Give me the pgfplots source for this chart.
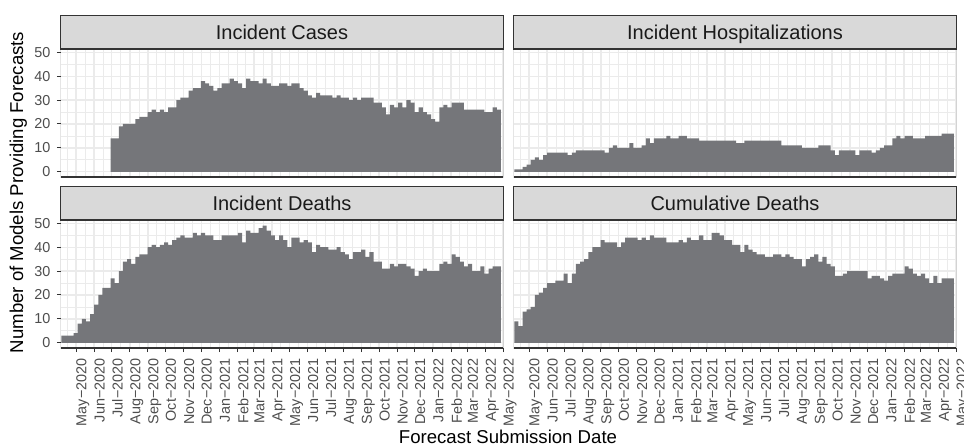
\documentclass[border=0pt]{standalone}
\usepackage{fontspec}
\setmainfont{Liberation Sans}
\setsansfont{Liberation Sans}
\usepackage{pgfplots}
\pgfplotsset{compat=1.18}
\definecolor{barc}{RGB}{117,118,122}
\definecolor{gridc}{RGB}{235,235,235}
\definecolor{borderc}{RGB}{51,51,51}
\definecolor{stripc}{RGB}{217,217,217}
\definecolor{tickc}{RGB}{77,77,77}
\definecolor{txtc}{RGB}{26,26,26}
\pgfplotsset{
  facet/.style={
    scale only axis, width=221.1pt, height=64pt,
    xmin=-0.6, xmax=107.04, ymin=-2.2, ymax=51.4,
    axis line style={draw=none},
    xtick={3.077,7.491,11.764,16.178,20.593,24.865,29.280,33.552,37.967,42.382,46.369,50.784,55.056,59.471,63.743,68.158,72.572,76.845,81.259,85.532,89.946,94.361,98.348,102.763,107.035},
    minor xtick={0.870,5.284,9.628,13.971,18.386,22.729,27.073,31.416,35.760,40.175,44.376,48.577,52.920,57.264,61.607,65.951,70.365,74.709,79.052,83.396,87.739,92.154,96.355,100.556,104.899},
    ytick={0,10,20,30,40,50}, minor ytick={5,15,25,35,45},
    grid=both,
    major grid style={color=gridc, line width=0.7pt},
    minor grid style={color=gridc, line width=0.35pt},
    tick align=outside, major tick length=2pt, minor tick length=0pt,
    tick pos=left,
    tick style={color=borderc, line width=0.5pt},
    ticklabel style={font=\fontsize{7.2}{8}\selectfont, color=tickc},
    /pgf/number format/assume math mode=true,
    yticklabel style={anchor=east, inner sep=0pt},
    yticklabel shift=3pt,
    xticklabel style={rotate=90, anchor=north east, inner sep=0pt},
    xticklabel shift=3pt,
  },
  toprow/.style={xticklabels={}, xtick style={draw=none}},
  rightcol/.style={yticklabels={}, ytick style={draw=none}},
  bottomrow/.style={xticklabels={May−2020,Jun−2020,Jul−2020,Aug−2020,Sep−2020,Oct−2020,Nov−2020,Dec−2020,Jan−2021,Feb−2021,Mar−2021,Apr−2021,May−2021,Jun−2021,Jul−2021,Aug−2021,Sep−2021,Oct−2021,Nov−2021,Dec−2021,Jan−2022,Feb−2022,Mar−2022,Apr−2022,May−2022}},
  bars/.style={ybar, bar width=1, bar shift=0pt, fill=barc, draw=none},
}
\newcommand{\frameit}{\draw[borderc, line width=0.55pt] (rel axis cs:0,0) rectangle (rel axis cs:1,1);}
\begin{document}
\begin{tikzpicture}
\path[use as bounding box] (0,0) rectangle (482pt,223.5pt);
% Incident Cases
\begin{axis}[facet, toprow, at={(30.45pt,135pt)}, anchor=south west]
\addplot[bars] coordinates {(12,14)(13,14)(14,19)(15,20)(16,20)(17,20)(18,22)(19,23)(20,23)(21,25)(22,26)(23,25)(24,26)(25,25)(26,27)(27,27)(28,30)(29,31)(30,31)(31,34)(32,35)(33,35)(34,38)(35,37)(36,36)(37,34)(38,35)(39,37)(40,37)(41,39)(42,38)(43,37)(44,35)(45,39)(46,38)(47,38)(48,37)(49,39)(50,37)(51,36)(52,36)(53,37)(54,37)(55,36)(56,37)(57,37)(58,35)(59,34)(60,32)(61,31)(62,33)(63,32)(64,32)(65,32)(66,31)(67,32)(68,31)(69,31)(70,30)(71,31)(72,30)(73,31)(74,31)(75,31)(76,29)(77,29)(78,27)(79,24)(80,28)(81,27)(82,29)(83,27)(84,30)(85,29)(86,25)(87,27)(88,25)(89,24)(90,22)(91,21)(92,27)(93,28)(94,27)(95,29)(96,29)(97,29)(98,26)(99,26)(100,26)(101,26)(102,26)(103,25)(104,25)(105,27)(106,26)};
\frameit
\end{axis}
% Incident Hospitalizations
\begin{axis}[facet, toprow, rightcol, at={(256.95pt,135pt)}, anchor=south west]
\addplot[bars] coordinates {(0,1)(1,1)(2,2)(3,3)(4,5)(5,6)(6,5)(7,7)(8,8)(9,8)(10,8)(11,8)(12,8)(13,7)(14,8)(15,9)(16,9)(17,9)(18,9)(19,9)(20,9)(21,9)(22,8)(23,10)(24,11)(25,10)(26,10)(27,10)(28,12)(29,10)(30,10)(31,11)(32,14)(33,12)(34,14)(35,14)(36,14)(37,15)(38,14)(39,14)(40,15)(41,15)(42,14)(43,14)(44,14)(45,13)(46,13)(47,13)(48,13)(49,13)(50,13)(51,13)(52,13)(53,13)(54,12)(55,12)(56,13)(57,13)(58,13)(59,13)(60,13)(61,13)(62,13)(63,13)(64,13)(65,11)(66,11)(67,11)(68,11)(69,11)(70,10)(71,10)(72,10)(73,10)(74,11)(75,11)(76,11)(77,9)(78,7)(79,9)(80,9)(81,9)(82,9)(83,7)(84,9)(85,9)(86,9)(87,8)(88,9)(89,10)(90,11)(91,11)(92,14)(93,15)(94,14)(95,15)(96,15)(97,14)(98,14)(99,14)(100,15)(101,15)(102,15)(103,15)(104,16)(105,16)(106,16)};
\frameit
\end{axis}
% Incident Deaths
\begin{axis}[facet, bottomrow, at={(30.45pt,49.5pt)}, anchor=south west]
\addplot[bars] coordinates {(0,3)(1,3)(2,3)(3,4)(4,8)(5,10)(6,9)(7,12)(8,16)(9,20)(10,23)(11,23)(12,27)(13,25)(14,30)(15,34)(16,35)(17,33)(18,36)(19,37)(20,37)(21,40)(22,41)(23,40)(24,41)(25,42)(26,41)(27,43)(28,44)(29,45)(30,44)(31,44)(32,46)(33,45)(34,46)(35,45)(36,45)(37,43)(38,43)(39,45)(40,45)(41,45)(42,45)(43,46)(44,42)(45,47)(46,46)(47,46)(48,48)(49,49)(50,47)(51,45)(52,43)(53,45)(54,43)(55,40)(56,44)(57,44)(58,42)(59,43)(60,42)(61,38)(62,41)(63,40)(64,40)(65,39)(66,39)(67,40)(68,38)(69,37)(70,35)(71,38)(72,38)(73,39)(74,36)(75,38)(76,34)(77,34)(78,31)(79,31)(80,33)(81,32)(82,33)(83,33)(84,32)(85,31)(86,28)(87,30)(88,31)(89,30)(90,30)(91,30)(92,33)(93,34)(94,33)(95,37)(96,36)(97,34)(98,32)(99,33)(100,30)(101,30)(102,32)(103,29)(104,31)(105,32)(106,32)};
\frameit
\end{axis}
% Cumulative Deaths
\begin{axis}[facet, bottomrow, rightcol, at={(256.95pt,49.5pt)}, anchor=south west]
\addplot[bars] coordinates {(0,9)(1,7)(2,13)(3,14)(4,15)(5,20)(6,21)(7,23)(8,25)(9,25)(10,26)(11,26)(12,29)(13,25)(14,29)(15,33)(16,34)(17,35)(18,38)(19,40)(20,40)(21,43)(22,42)(23,42)(24,42)(25,40)(26,42)(27,44)(28,44)(29,44)(30,43)(31,44)(32,43)(33,45)(34,44)(35,44)(36,44)(37,42)(38,42)(39,42)(40,43)(41,42)(42,44)(43,43)(44,43)(45,45)(46,43)(47,43)(48,46)(49,46)(50,45)(51,43)(52,43)(53,41)(54,41)(55,38)(56,41)(57,39)(58,38)(59,37)(60,37)(61,36)(62,36)(63,37)(64,37)(65,36)(66,37)(67,36)(68,35)(69,35)(70,32)(71,35)(72,36)(73,37)(74,34)(75,36)(76,33)(77,32)(78,28)(79,28)(80,29)(81,30)(82,30)(83,30)(84,30)(85,30)(86,27)(87,28)(88,28)(89,27)(90,26)(91,28)(92,29)(93,29)(94,29)(95,32)(96,31)(97,29)(98,28)(99,29)(100,27)(101,25)(102,28)(103,25)(104,27)(105,27)(106,27)};
\frameit
\end{axis}
% strips
\tikzset{strip/.style={fill=stripc, draw=borderc, line width=0.55pt}}
\path[strip] (30.45pt,199pt) rectangle (251.55pt,215.75pt);
\path[strip] (256.95pt,199pt) rectangle (478.05pt,215.75pt);
\path[strip] (30.45pt,113.5pt) rectangle (251.55pt,130.25pt);
\path[strip] (256.95pt,113.5pt) rectangle (478.05pt,130.25pt);
\tikzset{striptext/.style={anchor=base, inner sep=0pt, text=txtc, font=\fontsize{10}{12}\selectfont}}
\node[striptext] at (141pt,203.85pt) {Incident Cases};
\node[striptext] at (367.5pt,203.85pt) {Incident Hospitalizations};
\node[striptext] at (141pt,118.35pt) {Incident Deaths};
\node[striptext] at (367.5pt,118.35pt) {Cumulative Deaths};
% axis titles
\node[rotate=90, inner sep=0pt, font=\fontsize{9.3}{11}\selectfont] at (9.15pt,127.25pt) {Number of Models Providing Forecasts};
\node[anchor=base, inner sep=0pt, font=\fontsize{9.3}{11}\selectfont] at (254pt,2pt) {Forecast Submission Date};
\end{tikzpicture}
\end{document}
